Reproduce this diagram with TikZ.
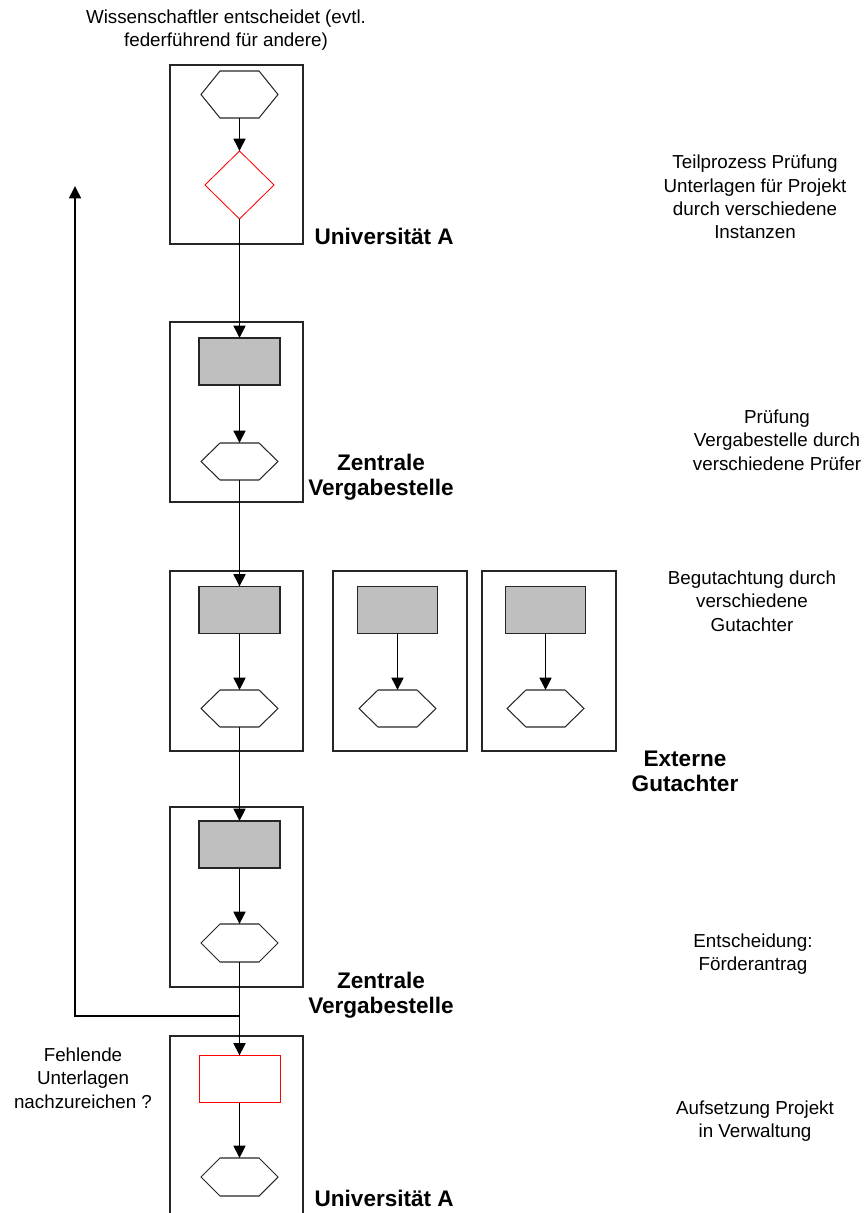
\documentclass[tikz,border=0pt]{standalone}
\usepackage{fontspec}
\setmainfont{Liberation Sans}
\usetikzlibrary{arrows.meta,shapes.geometric}
\newcommand\unitpx{0.532pt}
% hexagon with flat top and bottom: invisible frame node plus outline through its anchors
\newcommand\hexagonnode[4]{%
  \node[hexbase, minimum height=#4*\unitpx] (#1) at (#2,#3) {};
  \draw[hexline] (#1.west) -- ([xshift=19*\unitpx]#1.north west)
    -- ([xshift=-19*\unitpx]#1.north east) -- (#1.east)
    -- ([xshift=-19*\unitpx]#1.south east) -- ([xshift=19*\unitpx]#1.south west) -- cycle;
}
\begin{document}
\begin{tikzpicture}[x=0.532pt,y=-0.532pt,
  lane/.style={draw=black!85, line width=0.6pt, minimum width=133*\unitpx,
    minimum height=180*\unitpx, inner sep=0pt, outer sep=0pt},
  task/.style={draw=black!85, fill=black!25, line width=0.55pt, minimum width=81*\unitpx,
    minimum height=47*\unitpx, inner sep=0pt, outer sep=0pt},
  redtask/.style={task, draw=red, fill=white, line width=0.45pt},
  hexbase/.style={minimum width=77*\unitpx, inner sep=0pt, outer sep=0pt},
  hexline/.style={draw=black!85, line width=0.55pt, line join=miter},
  decision/.style={diamond, draw=red, line width=0.45pt, minimum width=69*\unitpx,
    minimum height=68*\unitpx, inner sep=0pt, outer sep=0pt},
  flow/.style={line width=0.8pt, -{Triangle[length=6.6pt,width=6.4pt]}},
  note/.style={align=center, font=\fontsize{10}{12.4}\selectfont},
  org/.style={align=center, font=\fontsize{12}{13.4}\selectfont\bfseries}]
\useasboundingbox (0,0) rectangle (866,1213);
\clip (0,0) rectangle (866,1213);

% lanes
\node[lane, minimum height=179*\unitpx] (laneA) at (236.5,154.5) {};
\node[lane] (laneB) at (236.5,412) {};
\node[lane] (laneC) at (236.5,661) {};
\node[lane, minimum width=134*\unitpx] (laneD) at (400,661) {};
\node[lane, minimum width=134*\unitpx] (laneE) at (549,661) {};
\node[lane] (laneF) at (236.5,897) {};
\node[lane, minimum height=220*\unitpx] (laneG) at (236.5,1146) {};

% Universitaet A (start)
\hexagonnode{hA}{239.5}{94.5}{47}
\node[decision] (dA) at (239.5,185) {};

% Zentrale Vergabestelle (Pruefung)
\node[task] (rB) at (239.5,361.5) {};
\hexagonnode{hB}{239.5}{461.5}{37}

% Gutachter
\node[task] (rC) at (239.5,610) {};
\hexagonnode{hC}{239.5}{708.5}{37}
\node[task, minimum width=80*\unitpx] (rD) at (397.5,610) {};
\hexagonnode{hD}{397.5}{708.5}{37}
\node[task, minimum width=80*\unitpx] (rE) at (545.5,610) {};
\hexagonnode{hE}{545.5}{708.5}{37}

% Zentrale Vergabestelle (Entscheidung)
\node[task] (rF) at (239.5,844.5) {};
\hexagonnode{hF}{239.5}{943}{38}

% Universitaet A (Aufsetzung)
\node[redtask] (rG) at (239.5,1079) {};
\hexagonnode{hG}{239.5}{1177}{38}

% flow
\draw[flow] (hA.south) -- (dA.north);
\draw[flow] (dA.south) -- (rB.north);
\draw[flow] (rB.south) -- (hB.north);
\draw[flow] (hB.south) -- (rC.north);
\draw[flow] (rC.south) -- (hC.north);
\draw[flow] (rD.south) -- (hD.north);
\draw[flow] (rE.south) -- (hE.north);
\draw[flow] (hC.south) -- (rF.north);
\draw[flow] (rF.south) -- (hF.north);
\draw[flow] (hF.south) -- (rG.north);
\draw[flow] (rG.south) -- (hG.north);

% return path for missing documents
\coordinate (fork) at (239.5,1016);
\coordinate (back) at (75,186);
\draw[flow] (fork) -| (back);

% labels
\node[note] (tTop) at (226,30) {Wissenschaftler entscheidet (evtl.\\federführend für andere)};
\node[note] (t1) at (755,197) {Teilprozess Prüfung\\Unterlagen für Projekt\\durch verschiedene\\Instanzen};
\node[note] (t2) at (777,440) {Prüfung\\Vergabestelle durch\\verschiedene Prüfer};
\node[note] (t3) at (752,601) {Begutachtung durch\\verschiedene\\Gutachter};
\node[note] (t4) at (753,954) {Entscheidung:\\Förderantrag};
\node[note] (t5) at (755,1121) {Aufsetzung Projekt\\in Verwaltung};
\node[note] (t6) at (83,1078) {Fehlende\\Unterlagen\\nachzureichen ?};

\node[org, anchor=west] (oA) at (308,236) {Universität A};
\node[org] (oB) at (381,477) {Zentrale\\Vergabestelle};
\node[org] (oC) at (685,771) {Externe\\Gutachter};
\node[org] (oD) at (381,995) {Zentrale\\Vergabestelle};
\node[org, anchor=west] (oE) at (308,1198) {Universität A};
\end{tikzpicture}
\end{document}
